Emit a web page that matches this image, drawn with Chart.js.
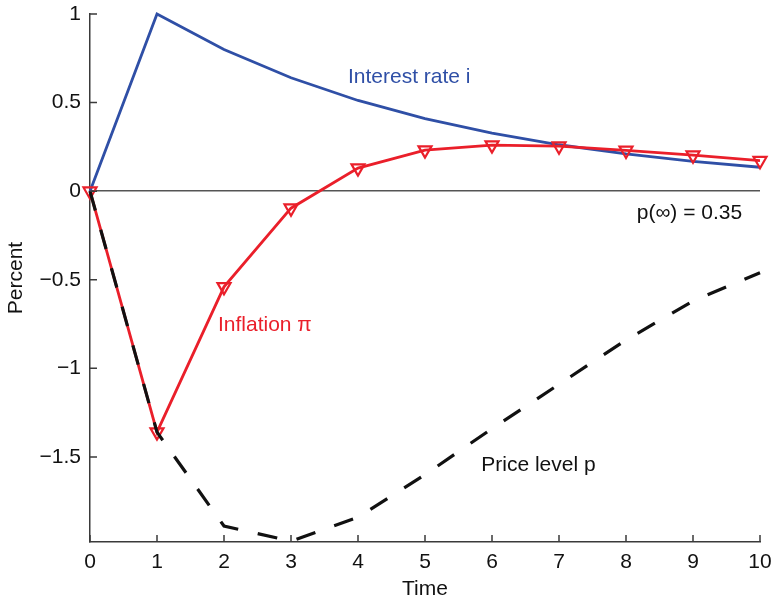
<!DOCTYPE html>
<html>
<head>
<meta charset="utf-8">
<script src="https://cdn.jsdelivr.net/npm/chart.js@4/dist/chart.umd.min.js"></script>
<style>
  html, body { margin: 0; padding: 0; background: #fff; }
  #wrap { width: 775px; height: 602px; }
</style>
</head>
<body>
<div id="wrap"><canvas id="myChart"></canvas></div>
<script>
  'use strict'

  const time = [0, 1, 2, 3, 4, 5, 6, 7, 8, 9, 10]
  const interestRate = [0, 1.0, 0.8, 0.64, 0.512, 0.41, 0.328, 0.262, 0.21, 0.168, 0.135]
  const inflation = [0, -1.36, -0.54, -0.096, 0.13, 0.232, 0.26, 0.254, 0.23, 0.203, 0.172]
  const priceLevel = [0, -1.36, -1.89, -1.975, -1.84, -1.6, -1.34, -1.09, -0.84, -0.62, -0.46]
  const yTicks = [-1.5, -1, -0.5, 0, 0.5, 1]
  const xTicks = [0, 1, 2, 3, 4, 5, 6, 7, 8, 9, 10]

  const BLUE = '#2f4fa6'
  const RED = '#ea1f2a'
  const AXIS = '#3a3a3a'
  const FONT = 'Liberation Sans, Arial, Helvetica, sans-serif'
  const SIZE = 21

  const points = (ys) => time.map((t, i) => ({ x: t, y: ys[i] }))
  const fmt = (v) => String(v).replace('-', '\u2212')

  // text labels placed in data coordinates
  const notes = [
    { text: 'Interest rate i', x: 3.85, y: 0.644, color: BLUE },
    { text: 'Inflation \u03c0', x: 1.91, y: -0.757, color: RED },
    { text: 'Price level p', x: 5.84, y: -1.548, color: '#111' },
    { text: 'p(\u221e) = 0.35', x: 8.16, y: -0.124, color: '#111' }
  ]

  const decorations = {
    id: 'decorations',
    afterDraw (chart) {
      const { ctx, scales: { x, y } } = chart
      ctx.save()
      // inward ticks
      ctx.strokeStyle = AXIS
      ctx.lineWidth = 1.5
      ctx.beginPath()
      xTicks.forEach(v => {
        const px = x.getPixelForValue(v)
        ctx.moveTo(px, y.bottom)
        ctx.lineTo(px, y.bottom - 7)
      })
      yTicks.forEach(v => {
        const py = y.getPixelForValue(v)
        ctx.moveTo(x.left, py)
        ctx.lineTo(x.left + 7, py)
      })
      ctx.stroke()
      // annotations
      ctx.font = SIZE + 'px ' + FONT
      ctx.textBaseline = 'middle'
      ctx.textAlign = 'left'
      notes.forEach(n => {
        ctx.fillStyle = n.color
        ctx.fillText(n.text, x.getPixelForValue(n.x), y.getPixelForValue(n.y))
      })
      ctx.restore()
    }
  }

  const ctx = document.getElementById('myChart')
  // eslint-disable-next-line no-unused-vars
  const myChart = new Chart(ctx, {
    type: 'line',
    data: {
      datasets: [{
        label: 'Price level p',
        data: points(priceLevel),
        borderColor: '#111',
        borderWidth: 3.2,
        borderDash: [20, 20],
        pointRadius: 0,
        tension: 0,
        clip: false
      }, {
        label: 'Inflation',
        data: points(inflation),
        borderColor: RED,
        borderWidth: 2.8,
        pointStyle: 'triangle',
        rotation: 180,
        pointRadius: 7.5,
        pointBorderWidth: 2.2,
        pointBorderColor: RED,
        pointBackgroundColor: 'rgba(255,255,255,0)',
        tension: 0,
        clip: false
      }, {
        label: 'Interest rate i',
        data: points(interestRate),
        borderColor: BLUE,
        borderWidth: 2.8,
        pointRadius: 0,
        tension: 0,
        clip: false
      }]
    },
    options: {
      responsive: true,
      maintainAspectRatio: false,
      animation: false,
      layout: { padding: { top: 14, right: 15, left: 4, bottom: 0 } },
      plugins: {
        legend: { display: false },
        tooltip: { enabled: false }
      },
      scales: {
        x: {
          type: 'linear',
          min: 0,
          max: 10,
          afterBuildTicks: (s) => { s.ticks = xTicks.map(v => ({ value: v })) },
          afterFit: (s) => { s.height = 60; s.paddingLeft = 0; s.paddingRight = 0 },
          grid: { display: false, drawTicks: false },
          border: { display: true, color: AXIS, width: 1.5 },
          ticks: {
            color: '#111',
            padding: 8,
            maxRotation: 0,
            font: { family: FONT, size: SIZE }
          },
          title: {
            display: true,
            text: 'Time',
            color: '#111',
            padding: { top: 3, bottom: 0 },
            font: { family: FONT, size: SIZE }
          }
        },
        y: {
          min: -1.98,
          max: 1,
          afterBuildTicks: (s) => { s.ticks = yTicks.map(v => ({ value: v })) },
          afterFit: (s) => { s.width = 86; s.paddingTop = 0; s.paddingBottom = 0 },
          grid: {
            drawTicks: false,
            color: (c) => (c.tick && c.tick.value === 0 ? '#555' : 'rgba(0,0,0,0)'),
            lineWidth: 1.5
          },
          border: { display: true, color: AXIS, width: 1.5 },
          ticks: {
            color: '#111',
            padding: 9,
            font: { family: FONT, size: SIZE },
            callback: (v) => fmt(v)
          },
          title: {
            display: true,
            text: 'Percent',
            color: '#111',
            padding: { top: 0, bottom: 6 },
            font: { family: FONT, size: SIZE }
          }
        }
      }
    },
    plugins: [decorations]
  })
</script>
</body>
</html>
